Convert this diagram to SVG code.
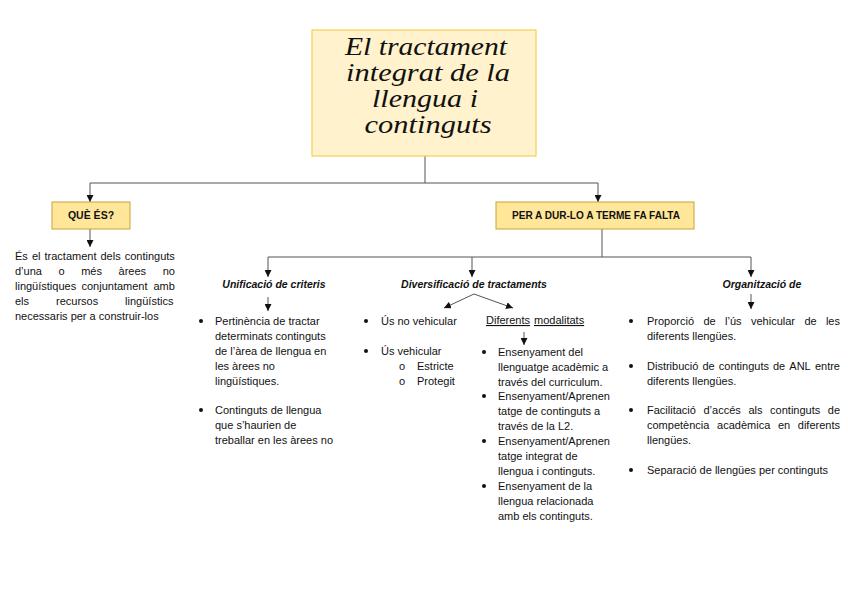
<svg xmlns="http://www.w3.org/2000/svg" width="848" height="599" viewBox="0 0 848 599">
<style>
.t{font-family:"Liberation Sans",Arial,sans-serif;font-size:11px;fill:#111}
.h{font-family:"Liberation Sans",Arial,sans-serif;font-size:10.5px;font-style:italic;font-weight:bold;fill:#111}
.b{font-family:"Liberation Sans",Arial,sans-serif;font-size:10.5px;font-weight:bold;fill:#111}
.title{font-family:"Liberation Serif","Times New Roman",serif;font-size:25px;font-style:italic;fill:#111}
.box{fill:#FFE699;stroke:#C9A23A;stroke-width:1}
.c{fill:none;stroke:#555;stroke-width:1}
.dot{fill:#111}
</style>
<defs>
<marker id="ar" viewBox="0 0 10 10" refX="10" refY="5" markerWidth="7" markerHeight="7" orient="auto" markerUnits="userSpaceOnUse">
<path d="M0,0 L10,5 L0,10 z" fill="#111"/>
</marker>
</defs>
<rect width="848" height="599" fill="#fff"/>

<g id="connectors">
<path class="c" d="M425,156 V183 M90,183 H598"/>
<path class="c" d="M90,183 V202" marker-end="url(#ar)"/>
<path class="c" d="M598,183 V202" marker-end="url(#ar)"/>
<path class="c" d="M90,229 V247" marker-end="url(#ar)"/>
<path class="c" d="M602,229 V257 M268,257 H751"/>
<path class="c" d="M268,257 V277" marker-end="url(#ar)"/>
<path class="c" d="M472,257 V277" marker-end="url(#ar)"/>
<path class="c" d="M751,257 V277" marker-end="url(#ar)"/>
<path class="c" d="M268,297 V311" marker-end="url(#ar)"/>
<path class="c" d="M474,294 L444,308" marker-end="url(#ar)"/>
<path class="c" d="M474,294 L513,308" marker-end="url(#ar)"/>
<path class="c" d="M524,332 V345" marker-end="url(#ar)"/>
<path class="c" d="M751,294 V309" marker-end="url(#ar)"/>
</g>

<g id="title">
<rect x="312" y="30" width="224" height="126" fill="#FFF2CC" stroke="#F5CE56" stroke-width="1.2"/>
<text class="title" x="426" y="55" text-anchor="middle" textLength="162" lengthAdjust="spacingAndGlyphs">El tractament</text>
<text class="title" x="428" y="81" text-anchor="middle" textLength="164" lengthAdjust="spacingAndGlyphs">integrat de la</text>
<text class="title" x="425" y="107" text-anchor="middle" textLength="106" lengthAdjust="spacingAndGlyphs">llengua i</text>
<text class="title" x="428" y="133" text-anchor="middle" textLength="127" lengthAdjust="spacingAndGlyphs">continguts</text>
</g>

<g id="que-es">
<rect class="box" x="52" y="202" width="78" height="27"/>
<text class="b" x="91" y="219" text-anchor="middle">QUÈ ÉS?</text>
</g>

<g id="per-a">
<rect class="box" x="496" y="202" width="198" height="27"/>
<text class="b" x="596" y="219" text-anchor="middle" textLength="168" lengthAdjust="spacingAndGlyphs">PER A DUR-LO A TERME FA FALTA</text>
</g>

<g id="definicio">
<text class="t" y="260"><tspan x="15">És</tspan><tspan x="31.9">el</tspan><tspan x="44.5">tractament</tspan><tspan x="100.5">dels</tspan><tspan x="124.7">continguts</tspan></text>
<text class="t" y="275"><tspan x="15">d’una</tspan><tspan x="58.5">o</tspan><tspan x="81.2">més</tspan><tspan x="118.6">àrees</tspan><tspan x="162.7">no</tspan></text>
<text class="t" y="290"><tspan x="15">lingüístiques</tspan><tspan x="81.5">conjuntament</tspan><tspan x="153.5">amb</tspan></text>
<text class="t" y="305"><tspan x="15">els</tspan><tspan x="56">recursos</tspan><tspan x="125.1">lingüístics</tspan></text>
<text class="t" x="15" y="320">necessaris per a construir-los</text>
</g>

<g id="unificacio">
<text class="h" x="274" y="288" text-anchor="middle">Unificació de criteris</text>
<circle class="dot" cx="201" cy="321" r="2"/>
<text class="t" x="215" y="325">Pertinència de tractar</text>
<text class="t" x="215" y="340">determinats continguts</text>
<text class="t" x="215" y="355">de l’àrea de llengua en</text>
<text class="t" x="215" y="370">les àrees no</text>
<text class="t" x="215" y="385">lingüístiques.</text>
<circle class="dot" cx="201" cy="410" r="2"/>
<text class="t" x="215" y="414">Continguts de llengua</text>
<text class="t" x="215" y="429">que s’haurien de</text>
<text class="t" x="215" y="444">treballar en les àrees no</text>
</g>

<g id="diversificacio">
<text class="h" x="474" y="288" text-anchor="middle">Diversificació de tractaments</text>
<circle class="dot" cx="366" cy="321" r="2"/>
<text class="t" x="381" y="325">Ús no vehicular</text>
<circle class="dot" cx="366" cy="351" r="2"/>
<text class="t" x="381" y="355">Ús vehicular</text>
<text class="t" x="399" y="370">o</text>
<text class="t" x="417" y="370">Estricte</text>
<text class="t" x="399" y="385">o</text>
<text class="t" x="417" y="385">Protegit</text>
<text class="t" y="324" text-decoration="underline"><tspan x="486">Diferents</tspan><tspan x="534">modalitats</tspan></text>
<circle class="dot" cx="484" cy="352" r="2"/>
<text class="t" x="498" y="356">Ensenyament del</text>
<text class="t" x="498" y="371">llenguatge acadèmic a</text>
<text class="t" x="498" y="386">través del curriculum.</text>
<circle class="dot" cx="484" cy="396" r="2"/>
<text class="t" x="498" y="400">Ensenyament/Aprenen</text>
<text class="t" x="498" y="415">tatge de continguts a</text>
<text class="t" x="498" y="430">través de la L2.</text>
<circle class="dot" cx="484" cy="441" r="2"/>
<text class="t" x="498" y="445">Ensenyament/Aprenen</text>
<text class="t" x="498" y="460">tatge integrat de</text>
<text class="t" x="498" y="475">llengua i continguts.</text>
<circle class="dot" cx="484" cy="486" r="2"/>
<text class="t" x="498" y="490">Ensenyament de la</text>
<text class="t" x="498" y="505">llengua relacionada</text>
<text class="t" x="498" y="520">amb els continguts.</text>
</g>

<g id="organitzacio">
<text class="h" x="762" y="288" text-anchor="middle">Organització de</text>
<circle class="dot" cx="631" cy="321" r="2"/>
<text class="t" y="325"><tspan x="647">Proporció</tspan><tspan x="703.5">de</tspan><tspan x="725.1">l’ús</tspan><tspan x="751">vehicular</tspan><tspan x="804.4">de</tspan><tspan x="825.9">les</tspan></text>
<text class="t" x="647" y="340">diferents llengües.</text>
<circle class="dot" cx="631" cy="366" r="2"/>
<text class="t" y="370"><tspan x="647">Distribució</tspan><tspan x="702.4">de</tspan><tspan x="718.8">continguts</tspan><tspan x="773">de</tspan><tspan x="789.3">ANL</tspan><tspan x="814.9">entre</tspan></text>
<text class="t" x="647" y="385">diferents llengües.</text>
<circle class="dot" cx="631" cy="410" r="2"/>
<text class="t" y="414"><tspan x="647">Facilitació</tspan><tspan x="703.5">d’accés</tspan><tspan x="748.4">als</tspan><tspan x="770.1">continguts</tspan><tspan x="827.8">de</tspan></text>
<text class="t" y="429"><tspan x="647">competència</tspan><tspan x="717.1">acadèmica</tspan><tspan x="778">en</tspan><tspan x="797.8">diferents</tspan></text>
<text class="t" x="647" y="444">llengües.</text>
<circle class="dot" cx="631" cy="470" r="2"/>
<text class="t" x="647" y="474">Separació de llengües per continguts</text>
</g>
</svg>
